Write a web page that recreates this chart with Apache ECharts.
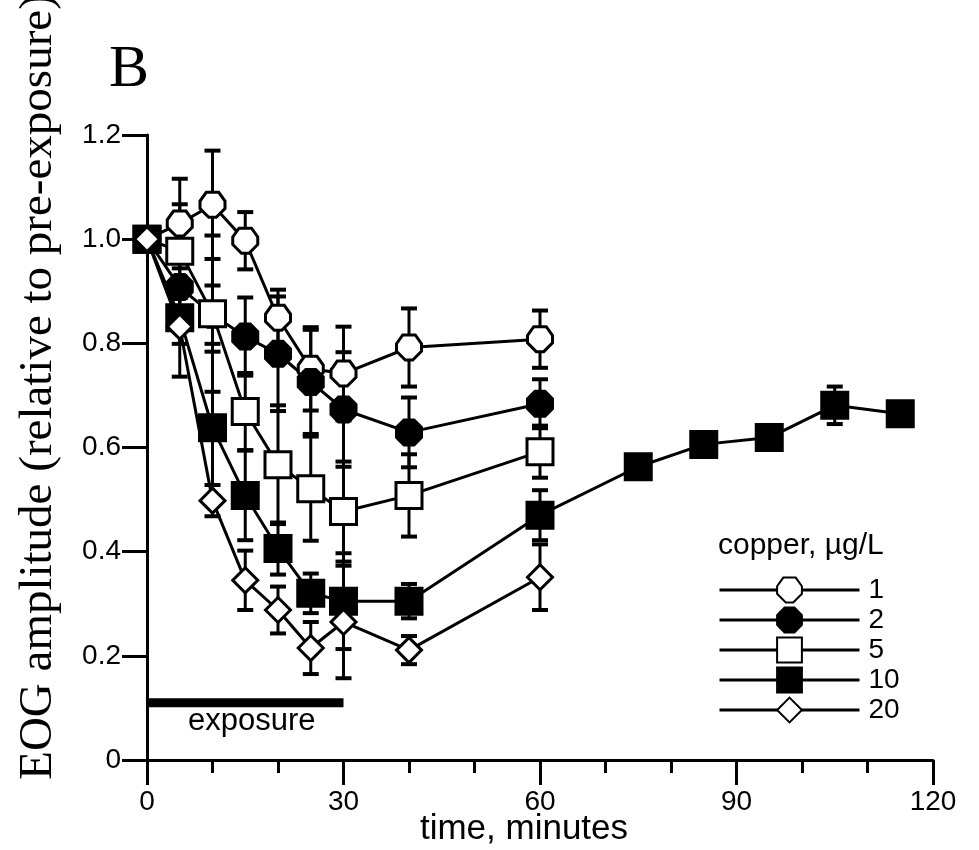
<!DOCTYPE html>
<html>
<head>
<meta charset="utf-8">
<script src="https://cdn.jsdelivr.net/npm/echarts@6/dist/echarts.min.js"></script>
<style>
  html, body { margin: 0; padding: 0; background: #fff; }
  #chart { width: 979px; height: 850px; }
</style>
</head>
<body>
<div id="chart"></div>
<script>
// time points (minutes)
const times = [0, 5, 10, 15, 20, 25, 30, 40, 60]
const timesLong = [0, 5, 10, 15, 20, 25, 30, 40, 60, 75, 85, 95, 105, 115]

// copper concentrations, ug/L
const concNames = ['1', '2', '5', '10', '20']

// mean EOG amplitude relative to pre-exposure, and error bars
const cu1 = [1.0, 1.03, 1.066, 0.997, 0.849, 0.751, 0.742, 0.792, 0.808]
const cu1Err = [0, 0.086, 0.104, 0.055, 0.054, 0.08, 0.09, 0.075, 0.055]
const cu2 = [1.0, 0.908, 0.855, 0.813, 0.780, 0.726, 0.673, 0.629, 0.684]
const cu2Err = [0, 0.05, 0.056, 0.075, 0.11, 0.1, 0.11, 0.067, 0.047]
const cu5 = [1.0, 0.977, 0.857, 0.669, 0.567, 0.521, 0.477, 0.508, 0.592]
const cu5Err = [0, 0.09, 0.15, 0.074, 0.114, 0.1, 0.096, 0.079, 0.05]
const cu10 = [1.0, 0.849, 0.638, 0.508, 0.406, 0.320, 0.305, 0.305, 0.470, 0.563, 0.606, 0.619, 0.681, 0.665]
const cu10Err = [0, 0.05, 0.146, 0.086, 0.05, 0.038, 0.092, 0.033, 0.048, 0, 0, 0, 0.036, 0]
const cu20 = [1.0, 0.832, 0.498, 0.345, 0.288, 0.215, 0.265, 0.211, 0.351]
const cu20Err = [0, 0.096, 0.03, 0.057, 0.045, 0.05, 0.108, 0.027, 0.063]

// exposure period bar
const exposureStart = 0
const exposureEnd = 30
const exposureLevel = 0.11

// axis ticks
const xTicks = [0, 30, 60, 90, 120]
const yTicks = [0, 0.2, 0.4, 0.6, 0.8, 1.0, 1.2]

const hexOpen = 'path://M-5,-10 L5,-10 L10,-3 L10,3 L3,10 L-3,10 L-10,3 L-10,-3 Z'
const hexFill = 'path://M-4,-10 L4,-10 L10,-4 L10,4 L4,10 L-4,10 L-10,4 L-10,-4 Z'
const font = "'Liberation Sans', Arial, sans-serif"
const serif = "'Liberation Serif', 'Times New Roman', serif"

function pairs(xs, ys) {
    return ys.map((v, i) => [xs[i], v])
}

function lineSeries(name, xs, ys, symbol, size, fill) {
    return {
        name: name,
        type: 'line',
        z: 3,
        data: pairs(xs, ys),
        symbol: symbol,
        symbolSize: size,
        showAllSymbol: true,
        lineStyle: { color: '#000', width: 3 },
        itemStyle: { color: fill, borderColor: '#000', borderWidth: 3, opacity: 1 },
        emphasis: { disabled: true }
    }
}

function errSeries(name, xs, ys, errs) {
    let dd = []
    for (let i = 0; i < ys.length; i++) {
        if (errs[i] > 0) dd.push([xs[i], ys[i] - errs[i], ys[i] + errs[i]])
    }
    return {
        name: name + ' err',
        type: 'custom',
        z: 1,
        silent: true,
        data: dd,
        encode: { x: 0, y: [1, 2] },
        renderItem: function (params, api) {
            const x = api.value(0)
            const lo = api.coord([x, api.value(1)])
            const hi = api.coord([x, api.value(2)])
            const hw = 8
            return {
                type: 'group',
                children: [
                    { type: 'line', shape: { x1: lo[0], y1: lo[1], x2: hi[0], y2: hi[1] }, style: { stroke: '#000', lineWidth: 3 } },
                    { type: 'line', shape: { x1: lo[0] - hw, y1: lo[1], x2: lo[0] + hw, y2: lo[1] }, style: { stroke: '#000', lineWidth: 4 } },
                    { type: 'line', shape: { x1: hi[0] - hw, y1: hi[1], x2: hi[0] + hw, y2: hi[1] }, style: { stroke: '#000', lineWidth: 4 } }
                ]
            }
        }
    }
}

const option = {
    animation: false,
    backgroundColor: '#fff',
    grid: { left: 147, right: 46, top: 135, bottom: 90 },
    xAxis: {
        type: 'value',
        min: xTicks[0],
        max: xTicks[xTicks.length - 1],
        interval: 30,
        axisLine: { lineStyle: { color: '#000', width: 3 } },
        axisTick: { show: true, inside: false, length: 25, lineStyle: { color: '#000', width: 3 } },
        minorTick: { show: true, splitNumber: 3, length: 13, lineStyle: { color: '#000', width: 3 } },
        splitLine: { show: false },
        axisLabel: { margin: 28, color: '#000', fontSize: 28, fontFamily: font }
    },
    yAxis: {
        type: 'value',
        min: yTicks[0],
        max: yTicks[yTicks.length - 1],
        interval: 0.2,
        axisLine: { lineStyle: { color: '#000', width: 3 } },
        axisTick: { show: true, inside: false, length: 25, lineStyle: { color: '#000', width: 3 } },
        splitLine: { show: false },
        axisLabel: {
            margin: 26,
            color: '#000',
            fontSize: 28,
            fontFamily: font,
            formatter: function (v) { return v === 0 ? '0' : v.toFixed(1) }
        }
    },
    legend: {
        data: concNames,
        orient: 'vertical',
        left: 713,
        top: 571,
        itemWidth: 140,
        itemHeight: 31,
        itemGap: 2,
        selectedMode: false,
        lineStyle: { color: '#000', width: 3 },
        textStyle: { color: '#000', fontSize: 28, fontFamily: font, padding: [0, 0, 0, 4] }
    },
    graphic: [
        {
            type: 'text', left: 109, top: 40,
            style: { text: 'B', fontSize: 60, fontFamily: serif, fill: '#000' }
        },
        {
            type: 'text', x: 39, y: 387, rotation: Math.PI / 2,
            style: {
                text: 'EOG amplitude (relative to pre-exposure)', fontSize: 47,
                fontFamily: serif, fill: '#000',
                align: 'center', verticalAlign: 'middle'
            }
        },
        {
            type: 'text', x: 524, y: 829,
            style: { text: 'time, minutes', fontSize: 35, fontFamily: font, fill: '#000', align: 'center', verticalAlign: 'middle' }
        },
        {
            type: 'text', left: 718, top: 531,
            style: { text: 'copper, µg/L', fontSize: 30, fontFamily: font, fill: '#000' }
        },
        {
            type: 'text', left: 188, top: 706,
            style: { text: 'exposure', fontSize: 31, fontFamily: font, fill: '#000' }
        }
    ],
    series: [
        {
            name: 'exposure',
            type: 'line',
            z: 2,
            data: [[exposureStart, exposureLevel], [exposureEnd, exposureLevel]],
            symbol: 'none',
            lineStyle: { color: '#000', width: 9, cap: 'butt' },
            silent: true
        },
        errSeries('1', times, cu1, cu1Err),
        errSeries('2', times, cu2, cu2Err),
        errSeries('5', times, cu5, cu5Err),
        errSeries('10', timesLong, cu10, cu10Err),
        errSeries('20', times, cu20, cu20Err),
        lineSeries('1', times, cu1, hexOpen, [25, 25], '#fff'),
        lineSeries('2', times, cu2, hexFill, [25, 25], '#000'),
        lineSeries('5', times, cu5, 'rect', [26, 26], '#fff'),
        lineSeries('10', timesLong, cu10, 'rect', [26, 26], '#000'),
        lineSeries('20', times, cu20, 'diamond', [25, 25], '#fff')
    ]
}

const myChart = echarts.init(document.getElementById('chart'), null, { renderer: 'canvas' })
myChart.setOption(option)
</script>
</body>
</html>
